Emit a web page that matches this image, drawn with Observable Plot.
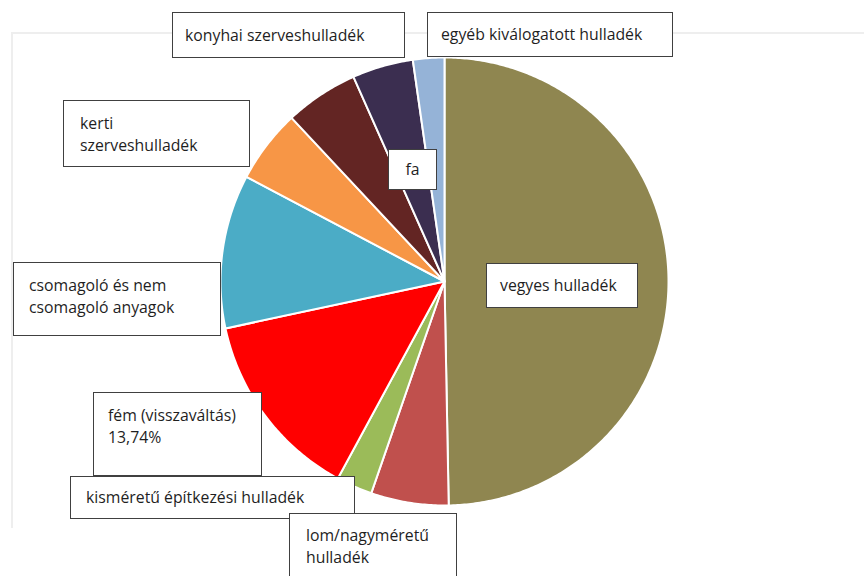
<!DOCTYPE html>
<html>
<head>
<meta charset="utf-8">
<script src="https://cdn.jsdelivr.net/npm/d3@7"></script>
<script src="https://cdn.jsdelivr.net/npm/@observablehq/plot@0.6"></script>
<style>
  body { margin: 0; background: #fff; }
  #wrap { position: relative; width: 864px; height: 576px; overflow: hidden; font-family: "Open Sans", "Noto Sans", sans-serif; }
  #frame { position: absolute; left: 11px; top: 32px; width: 860px; height: 496px; border-top: 2px solid #eeeeee; border-left: 2px solid #eeeeee; box-sizing: border-box; }
  #chart { position: absolute; left: 0; top: 0; }
  .box { position: absolute; background: #fff; border: 1.6px solid #404040; box-sizing: border-box; font-size: 15.8px; line-height: 22px; color: #1f1f1f; white-space: nowrap; }
</style>
</head>
<body>
<div id="wrap">
  <div id="frame"></div>
  <div id="chart"></div>
</div>
<script>
// ---- data (clockwise from 12 o'clock) ----
const categories = [
  "vegyes hulladék",
  "lom/nagyméretű hulladék",
  "kisméretű építkezési hulladék",
  "fém (visszaváltás)",
  "csomagoló és nem csomagoló anyagok",
  "kerti szerveshulladék",
  "konyhai szerveshulladék",
  "fa",
  "egyéb kiválogatott hulladék"
];
const values = [49.7, 5.6, 2.6, 13.74, 11.1, 5.3, 5.3, 4.4, 2.26];
const palette = ["#8f8650", "#c0504d", "#9bbb59", "#ff0000", "#4bacc6", "#f79646", "#632523", "#3b2e50", "#95b3d7"];

// label texts (lines) for each annotation box
const labelLines = [
  ["vegyes hulladék"],
  ["lom/nagyméretű", "hulladék"],
  ["kisméretű építkezési hulladék"],
  ["fém (visszaváltás)", "13,74%"],
  ["csomagoló és nem", "csomagoló anyagok"],
  ["kerti", "szerveshulladék"],
  ["konyhai szerveshulladék"],
  ["fa"],
  ["egyéb kiválogatott hulladék"]
];

// ---- layout of annotation boxes (pixels), drawn in this order ----
const boxLayout = [
  {i: 6, left: 172, top: 12, w: 233, h: 46, pl: 12, pt: 11},
  {i: 8, left: 427, top: 12, w: 246, h: 45, pl: 13, pt: 10},
  {i: 5, left: 63, top: 100, w: 187, h: 67, pl: 16, pt: 11},
  {i: 7, left: 388, top: 149, w: 49, h: 41, center: true, pt: 8},
  {i: 4, left: 13, top: 262, w: 208, h: 74, pl: 15, pt: 11},
  {i: 0, left: 486, top: 263, w: 152, h: 45, pl: 13, pt: 10},
  {i: 3, left: 93, top: 392, w: 169, h: 84, pl: 14, pt: 11},
  {i: 2, left: 70, top: 476, w: 285, h: 43, pl: 15, pt: 9},
  {i: 1, left: 289, top: 513, w: 168, h: 80, pl: 16, pt: 10}
];

// ---- build slice polygons from the data ----
const slices = d3.pie().sort(null).value(d => d.value).startAngle(0).endAngle(2 * Math.PI)(
  categories.map((name, k) => ({name, value: values[k]}))
);
const pts = [];
for (const s of slices) {
  const name = s.data.name;
  pts.push({name, x: 0, y: 0});
  const n = Math.max(2, Math.ceil((s.endAngle - s.startAngle) / 0.01));
  for (let j = 0; j <= n; j++) {
    const a = s.startAngle + (s.endAngle - s.startAngle) * j / n;
    pts.push({name, x: Math.sin(a), y: Math.cos(a)});
  }
  pts.push({name, x: 0, y: 0});
}

const chart = Plot.plot({
  width: 864,
  height: 576,
  marginLeft: 220,
  marginRight: 196,
  marginTop: 57,
  marginBottom: 71,
  x: {domain: [-1, 1], axis: null},
  y: {domain: [-1, 1], axis: null},
  color: {domain: categories, range: palette},
  style: {background: "transparent"},
  marks: [
    Plot.line(pts, {x: "x", y: "y", z: "name", fill: "name", stroke: "white", strokeWidth: 2, strokeLinejoin: "round", curve: "linear"})
  ]
});
document.getElementById("chart").appendChild(chart);

// ---- annotation boxes ----
const wrap = document.getElementById("wrap");
for (const b of boxLayout) {
  const d = document.createElement("div");
  d.className = "box";
  d.style.left = b.left + "px";
  d.style.top = b.top + "px";
  d.style.width = b.w + "px";
  d.style.height = b.h + "px";
  d.style.paddingTop = b.pt + "px";
  if (b.center) d.style.textAlign = "center";
  else d.style.paddingLeft = b.pl + "px";
  d.innerHTML = labelLines[b.i].join("<br>");
  wrap.appendChild(d);
}
</script>
</body>
</html>
